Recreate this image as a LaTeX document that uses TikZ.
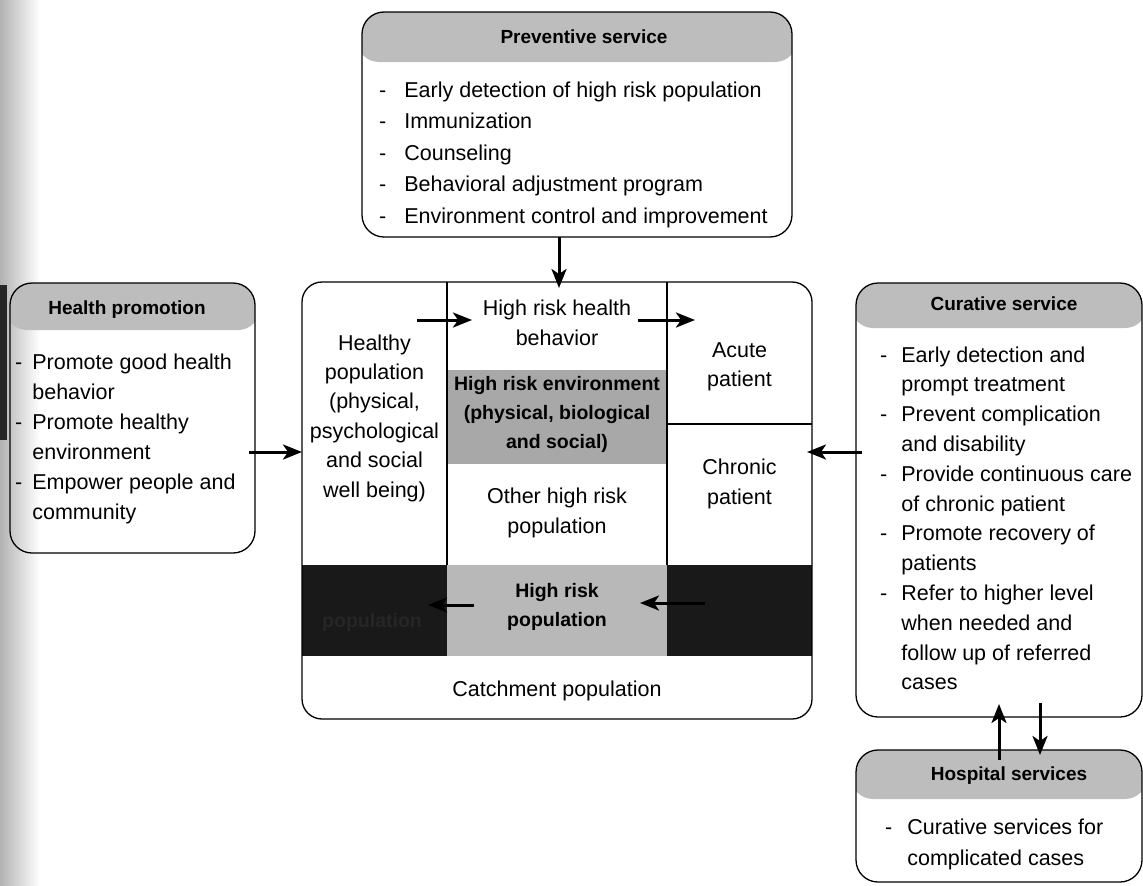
\documentclass[tikz,border=0pt]{standalone}
\usepackage{fontspec}
\setmainfont{Liberation Sans}
\usetikzlibrary{arrows.meta,calc}
\definecolor{hdr}{gray}{0.74}
\definecolor{envg}{gray}{0.66}
\definecolor{popg}{gray}{0.72}
\definecolor{darkc}{gray}{0.1}
\definecolor{darkt}{gray}{0.15}
\tikzset{
 box/.style={draw=black, line width=1.3pt, rounded corners=22pt, inner sep=0pt, outer sep=0pt, anchor=north west},
 hdrband/.style={path picture={\fill[hdr] ([xshift=-5pt,yshift=5pt]path picture bounding box.north west) rectangle ([xshift=5pt,yshift=-#1]path picture bounding box.north east);}},
 arr/.style={-{Stealth[length=19pt,width=15pt,inset=5pt]}, line width=3pt},
 body/.style={font=\fontsize{21.5}{29.4}\selectfont, align=center, inner sep=0pt},
 bbody/.style={font=\bfseries\fontsize{19.5}{29}\selectfont, align=center, inner sep=0pt},
 hdrtxt/.style={font=\bfseries\fontsize{19}{22}\selectfont, inner sep=0pt},
 lst/.style={anchor=north west, inner sep=0pt},
 cellline/.style={line width=1.2pt},
}
\begin{document}
\begin{tikzpicture}[x=1pt,y=-1pt]
\useasboundingbox (0,0) rectangle (1143,886);
% scan shading on the left edge
\shade[left color=gray!60, right color=white] (0,0) rectangle (40,886);
\fill[black!85] (0,285) rectangle (7,440);

% ---------- Preventive service ----------
\node[box, hdrband=50pt, minimum width=430pt, minimum height=225pt] (prev) at (362,12) {};
\node[hdrtxt] (prevh) at (584,37) {Preventive service};
\node[lst] (prevl) at (379,75) {\fontsize{21.5}{31.5}\selectfont
\begin{tabular}{@{}l@{\hspace{18pt}}l@{}}
-&Early detection of high risk population\\
-&Immunization\\
-&Counseling\\
-&Behavioral adjustment program\\
-&Environment control and improvement
\end{tabular}};

% ---------- Health promotion ----------
\node[box, hdrband=47pt, minimum width=245pt, minimum height=270pt] (hp) at (10,283) {};
\node[hdrtxt] (hph) at (127,310) {Health promotion};
\node[lst] (hpl) at (15,348) {\fontsize{21.5}{30}\selectfont
\begin{tabular}{@{}l@{\hspace{10pt}}l@{}}
-&Promote good health\\
 &behavior\\
-&Promote healthy\\
 &environment\\
-&Empower people and\\
 &community
\end{tabular}};

% ---------- Curative service ----------
\node[box, hdrband=45pt, minimum width=286pt, minimum height=434pt] (cur) at (856,283) {};
\node[hdrtxt] (curh) at (1004,304) {Curative service};
\node[lst] (curl) at (880,341) {\fontsize{21.5}{29.8}\selectfont
\begin{tabular}{@{}l@{\hspace{14pt}}l@{}}
-&Early detection and\\
 &prompt treatment\\
-&Prevent complication\\
 &and disability\\
-&Provide continuous care\\
 &of chronic patient\\
-&Promote recovery of\\
 &patients\\
-&Refer to higher level\\
 &when needed and\\
 &follow up of referred\\
 &cases
\end{tabular}};

% ---------- Hospital services ----------
\node[box, hdrband=49pt, minimum width=286pt, minimum height=132pt] (hos) at (856,750) {};
\node[hdrtxt] (hosh) at (1009,776) {Hospital services};
\node[lst] (hosl) at (885,813) {\fontsize{21.5}{31}\selectfont
\begin{tabular}{@{}l@{\hspace{15pt}}l@{}}
-&Curative services for\\
 &complicated cases
\end{tabular}};

% ---------- Central population box ----------
\fill[envg] (447,370) rectangle (667,464);
\fill[darkc] (302,565) rectangle (447,656);
\fill[popg] (447,565) rectangle (667,656);
\fill[darkc] (667,565) rectangle (812,656);
\draw[cellline] (447,282) -- (447,565);
\draw[cellline] (667,282) -- (667,565);
\draw[cellline] (667,424) -- (812,424);
\node[box, rounded corners=20pt, minimum width=510pt, minimum height=437pt] (cb) at (302,282) {};

\node[body] (healthy) at (374.5,418) {Healthy\\population\\(physical,\\psychological\\and social\\well being)};
\node[body] (hrhb) at (557,323) {High risk health\\behavior};
\node[bbody] (hre) at (557,414) {High risk environment\\(physical, biological\\and social)};
\node[body] (ohr) at (557,513) {Other high risk\\population};
\node[body] (acute) at (739.5,367) {Acute\\patient};
\node[body] (chronic) at (739.5,484) {Chronic\\patient};
\node[bbody] (hrp) at (557,607) {High risk\\population};
\node[bbody, text=darkt] (lpop) at (372,622) {population};
\node[body] (catch) at (557,691) {Catchment population};

% ---------- connectors ----------
\coordinate (yA) at (0,452);
\coordinate (pa) at (559,0);
\coordinate (ux) at (999,0);
\coordinate (dx) at (1040,0);
\coordinate (t1a) at (417,320);
\coordinate (t1b) at (472,320);
\coordinate (t2a) at (638,320);
\coordinate (t2b) at (695,320);
\coordinate (b1a) at (474,605);
\coordinate (b1b) at (428,605);
\coordinate (b2a) at (705,603);
\coordinate (b2b) at (640,603);

\draw[arr] (prev.south -| pa) -- ($(cb.north -| pa)+(0,6)$);
\draw[arr] ($(hp.east |- yA)+(-6,0)$) -- (cb.west |- yA);
\draw[arr] ($(cur.west |- yA)+(6,0)$) -- ($(cb.east |- yA)+(-5,0)$);
\draw[arr] (t1a) -- (t1b);
\draw[arr] (t2a) -- (t2b);
\draw[arr] (b1a) -- (b1b);
\draw[arr] (b2a) -- (b2b);
\draw[arr] ($(hos.north -| ux)+(0,10)$) -- ($(cur.south -| ux)+(0,-13)$);
\draw[arr] ($(cur.south -| dx)+(0,-14)$) -- ($(hos.north -| dx)+(0,5)$);
\end{tikzpicture}
\end{document}
